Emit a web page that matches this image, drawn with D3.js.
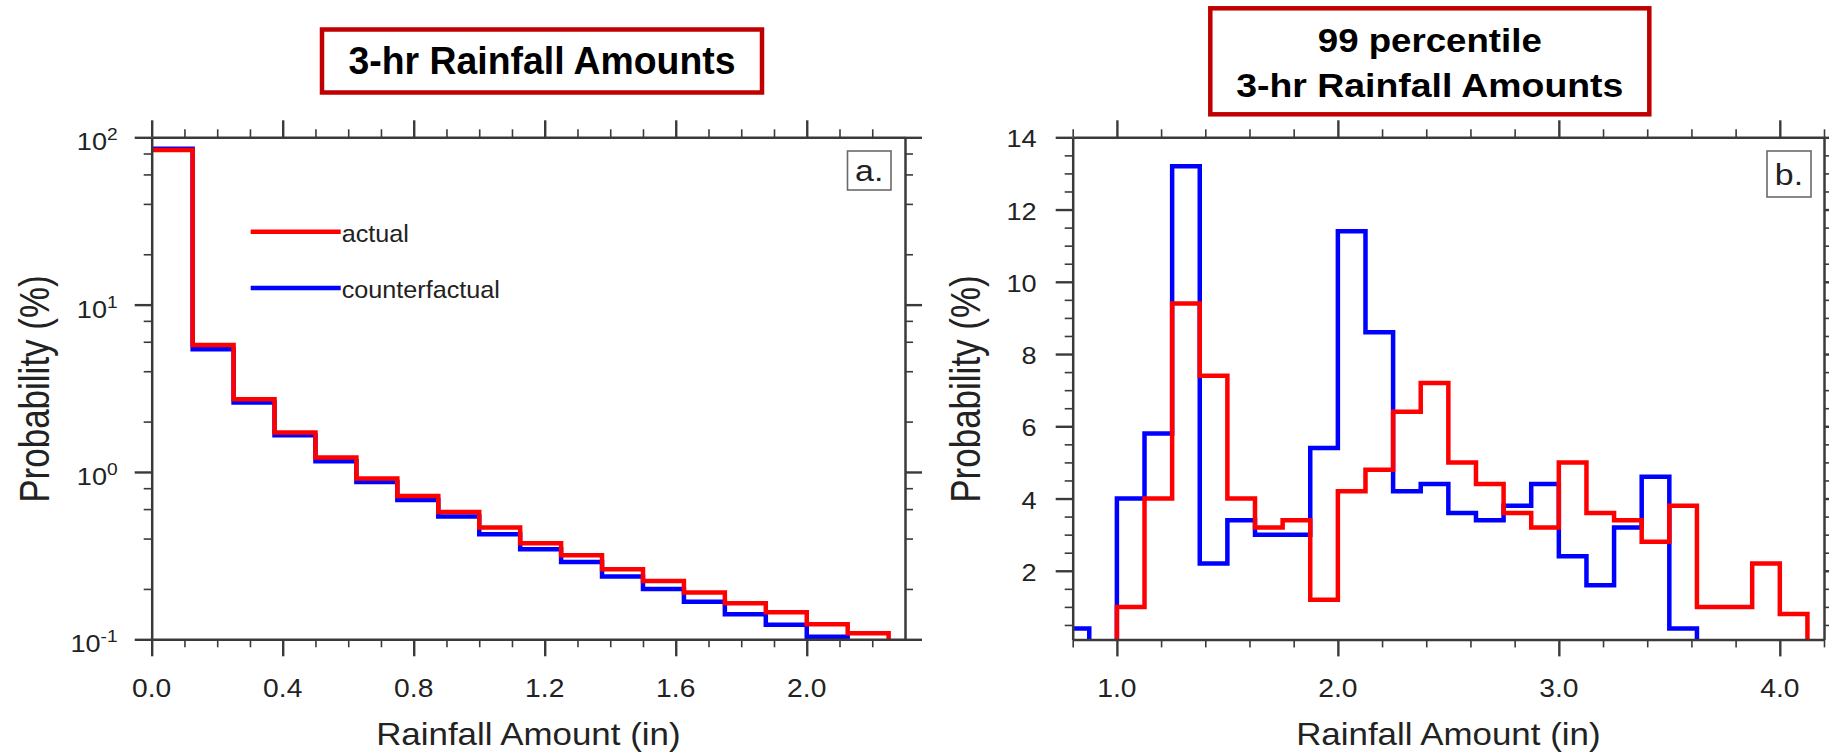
<!DOCTYPE html>
<html>
<head>
<meta charset="utf-8">
<script src="https://cdn.jsdelivr.net/npm/d3@7"></script>
<style>
  body { margin: 0; background: #fff; }
  svg { display: block; }
</style>
</head>
<body>
<svg id="chart" width="1829" height="756"></svg>
<script>
// ---------- data ----------
// panel a: all 3-hr amounts, bins 0.125 in wide (log y)
const edgesA = [0, 0.125, 0.25, 0.375, 0.5, 0.625, 0.75, 0.875, 1.0, 1.125,
                1.25, 1.375, 1.5, 1.625, 1.75, 1.875, 2.0, 2.125, 2.25];
const actualA = [84, 5.73, 2.72, 1.72, 1.22, 0.913, 0.719, 0.577, 0.466, 0.375,
                 0.318, 0.262, 0.223, 0.1905, 0.164, 0.145, 0.123, 0.1085];
const counterA = [85.5, 5.41, 2.6, 1.66, 1.16, 0.872, 0.681, 0.542, 0.425, 0.345,
                  0.29, 0.237, 0.1995, 0.1675, 0.1414, 0.122, 0.1035, 0];

// panel b: 99 percentile amounts, bins 0.125 in wide
const edgesB = [0.75, 0.875, 1.0, 1.125, 1.25, 1.375, 1.5, 1.625, 1.75, 1.875,
                2.0, 2.125, 2.25, 2.375, 2.5, 2.625, 2.75, 2.875, 3.0, 3.125,
                3.25, 3.375, 3.5, 3.625, 3.75, 3.875, 4.0, 4.125];
const actualB = [0, 0, 1.0, 4.0, 9.4, 7.4, 4.0, 3.2, 3.4, 1.2,
                 4.2, 4.8, 6.4, 7.2, 5.0, 4.4, 3.6, 3.2, 5.0, 3.6,
                 3.4, 2.8, 3.8, 1.0, 1.0, 2.2, 0.8];
const counterB = [0.4, 0, 4.0, 5.8, 13.2, 2.2, 3.4, 3.0, 3.0, 5.4,
                  11.4, 8.6, 4.2, 4.4, 3.6, 3.4, 3.8, 4.4, 2.4, 1.6,
                  3.2, 4.6, 0.4];

// ticks
const xMajorA = [0, 0.4, 0.8, 1.2, 1.6, 2.0];
const xLabelsA = ["0.0", "0.4", "0.8", "1.2", "1.6", "2.0"];
const xMinorA = [0.1, 0.2, 0.3, 0.5, 0.6, 0.7, 0.9, 1.0, 1.1, 1.3, 1.4, 1.5, 1.7, 1.8, 1.9, 2.1, 2.2];
const yMajorA = [0.1, 1, 10, 100];
const yExpA = ["-1", "0", "1", "2"];
const yMinorA = [0.2, 0.4, 0.6, 0.8, 2, 4, 6, 8, 20, 40, 60, 80];

const xMajorB = [1, 2, 3, 4];
const xLabelsB = ["1.0", "2.0", "3.0", "4.0"];
const xMinorB = [0.8, 1.2, 1.4, 1.6, 1.8, 2.2, 2.4, 2.6, 2.8, 3.2, 3.4, 3.6, 3.8, 4.2];
const yMajorB = [2, 4, 6, 8, 10, 12, 14];
const yLabelsB = ["2", "4", "6", "8", "10", "12", "14"];
const yMinorB = [0.5, 1, 1.5, 2.5, 3, 3.5, 4.5, 5, 5.5, 6.5, 7, 7.5, 8.5, 9, 9.5,
                 10.5, 11, 11.5, 12.5, 13, 13.5];

const seriesNames = ["actual", "counterfactual"];
const seriesColors = ["#ff0000", "#0000ff"];

// ---------- drawing ----------
const FONT = '"Liberation Sans", Arial, Helvetica, sans-serif';
const AXC = "#3a3a3a";
const S = 1.13;   // the source picture is a bit wide, stretch text to match
const svg = d3.select("#chart");

function drawPanel(p) {
    const g = svg.append("g");
    const [xl, xr] = p.x.range(), [yb, yt] = p.y.range();

    g.append("clipPath").attr("id", "clip-" + p.id)
        .append("rect").attr("x", xl).attr("y", yt).attr("width", xr - xl).attr("height", yb - yt);

    // step outlines, counterfactual first so actual sits on top
    const yPos = v => v > 0 ? p.y(v) : yb + 10;
    const line = d3.line().x(d => p.x(d[0])).y(d => yPos(d[1]));
    [[p.counter, seriesColors[1]], [p.actual, seriesColors[0]]].forEach(([vals, col]) => {
        let pts = [];
        vals.forEach((v, i) => { pts.push([p.edges[i], v], [p.edges[i + 1], v]); });
        pts.push([p.edges[vals.length], 0]);
        g.append("path")
            .attr("d", line(pts))
            .attr("fill", "none")
            .attr("stroke", col)
            .attr("stroke-width", 4.5)
            .attr("clip-path", "url(#clip-" + p.id + ")");
    });

    // frame with ticks on all four sides
    const sides = [
        [d3.axisBottom, p.x, `translate(0,${yb})`, p.xMajor, p.xMinor],
        [d3.axisTop, p.x, `translate(0,${yt})`, p.xMajor, p.xMinor],
        [d3.axisLeft, p.y, `translate(${xl},0)`, p.yMajor, p.yMinor],
        [d3.axisRight, p.y, `translate(${xr},0)`, p.yMajor, p.yMinor]
    ];
    sides.forEach(([fn, sc, tr, major, minor]) => {
        let mn = g.append("g").attr("transform", tr)
            .call(fn(sc).tickValues(minor).tickSize(8).tickSizeOuter(0).tickFormat(""));
        mn.select(".domain").remove();
        mn.selectAll("line").attr("stroke", AXC).attr("stroke-width", 1.6);
        let mj = g.append("g").attr("transform", tr)
            .call(fn(sc).tickValues(major).tickSize(17).tickSizeOuter(0).tickFormat(""));
        mj.select(".domain").attr("stroke", AXC).attr("stroke-width", 2.5);
        mj.selectAll("line").attr("stroke", AXC).attr("stroke-width", 2.4);
        mj.selectAll("text").remove();
    });

    // bottom tick labels
    g.selectAll(".xlab").data(p.xMajor).enter().append("text")
        .attr("class", "xlab")
        .attr("transform", d => `translate(${p.x(d)},${yb + 58}) scale(${S},1)`)
        .attr("text-anchor", "middle")
        .attr("font-family", FONT).attr("font-size", 25).attr("fill", "#222")
        .text((d, i) => p.xLabels[i]);

    // left tick labels
    let yl = g.selectAll(".ylab").data(p.yMajor).enter().append("text")
        .attr("class", "ylab")
        .attr("text-anchor", "end")
        .attr("font-family", FONT).attr("font-size", 24).attr("fill", "#222");
    if (p.yExp) {
        yl.attr("transform", d => `translate(${xl - 34},${p.y(d) + 13}) scale(${S},1)`);
        yl.append("tspan").text("10");
        yl.append("tspan").attr("dy", -10).attr("font-size", 17).text((d, i) => p.yExp[i]);
    } else {
        yl.attr("transform", d => `translate(${xl - 36},${p.y(d) + 10}) scale(${S},1)`)
            .text((d, i) => p.yLabels[i]);
    }

    // axis titles
    g.append("text")
        .attr("transform", `translate(${(xl + xr) / 2},745) scale(1.09,1)`)
        .attr("text-anchor", "middle")
        .attr("font-family", FONT).attr("font-size", 32).attr("fill", "#222")
        .text("Rainfall Amount (in)");
    g.append("text")
        .attr("transform", `translate(${p.yTitleX},389) scale(1.2,1) rotate(-90)`)
        .attr("text-anchor", "middle")
        .attr("font-family", FONT).attr("font-size", 35).attr("fill", "#222")
        .text("Probability (%)");

    // panel tag in a small box
    g.append("rect")
        .attr("x", p.tag.x).attr("y", 151).attr("width", p.tag.w).attr("height", p.tag.h)
        .attr("fill", "#fff").attr("stroke", "#6a6a6a").attr("stroke-width", 1.6);
    g.append("text")
        .attr("transform", `translate(${p.tag.x + p.tag.w / 2},${p.tag.base}) scale(${S},1)`)
        .attr("text-anchor", "middle")
        .attr("font-family", FONT).attr("font-size", 30).attr("fill", "#222")
        .text(p.tag.text);

    // title box
    g.append("rect")
        .attr("x", p.title.x).attr("y", p.title.y).attr("width", p.title.w).attr("height", p.title.h)
        .attr("fill", "#fff").attr("stroke", "#c00000").attr("stroke-width", 4.5);
    p.title.lines.forEach(l => {
        g.append("text")
            .attr("x", p.title.x + p.title.w / 2).attr("y", l.base)
            .attr("text-anchor", "middle")
            .attr("font-family", FONT).attr("font-weight", "bold")
            .attr("font-size", p.title.size).attr("fill", "#000")
            .attr("textLength", l.len).attr("lengthAdjust", "spacingAndGlyphs")
            .text(l.text);
    });
    return g;
}

const gA = drawPanel({
    id: "a",
    x: d3.scaleLinear().domain([0, 2.3]).range([151.7, 905]),
    y: d3.scaleLog().domain([0.1, 100]).range([639.3, 137.3]),
    edges: edgesA, actual: actualA, counter: counterA,
    xMajor: xMajorA, xLabels: xLabelsA, xMinor: xMinorA,
    yMajor: yMajorA, yExp: yExpA, yMinor: yMinorA,
    yTitleX: 49,
    tag: {text: "a.", x: 847.5, w: 43.5, h: 39, base: 181},
    title: {x: 322, y: 29.5, w: 440, h: 63, size: 38,
            lines: [{text: "3-hr Rainfall Amounts", base: 74, len: 387}]}
});

drawPanel({
    id: "b",
    x: d3.scaleLinear().domain([0.8, 4.2]).range([1072.7, 1824]),
    y: d3.scaleLinear().domain([0.1, 14]).range([639.4, 137.3]),
    edges: edgesB, actual: actualB, counter: counterB,
    xMajor: xMajorB, xLabels: xLabelsB, xMinor: xMinorB,
    yMajor: yMajorB, yLabels: yLabelsB, yMinor: yMinorB,
    yTitleX: 980,
    tag: {text: "b.", x: 1767, w: 44, h: 46, base: 185},
    title: {x: 1210.3, y: 8.3, w: 439, h: 106, size: 33,
            lines: [{text: "99 percentile", base: 51.7, len: 224},
                    {text: "3-hr Rainfall Amounts", base: 97.3, len: 387}]}
});

// legend inside panel a
const legY = [231.7, 288];
seriesNames.forEach((name, i) => {
    gA.append("line")
        .attr("x1", 250.7).attr("x2", 340.7).attr("y1", legY[i]).attr("y2", legY[i])
        .attr("stroke", seriesColors[i]).attr("stroke-width", 4.5);
    gA.append("text")
        .attr("transform", `translate(341.7,${legY[i] + 10}) scale(1.05,1)`)
        .attr("font-family", FONT).attr("font-size", 24).attr("fill", "#222")
        .text(name);
});
</script>
</body>
</html>
